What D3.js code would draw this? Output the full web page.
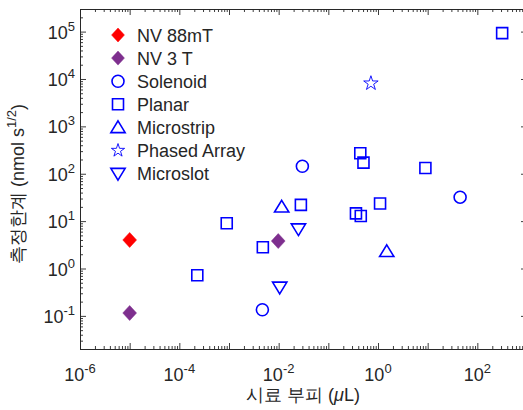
<!DOCTYPE html>
<html>
<head>
<meta charset="utf-8">
<script src="https://cdn.jsdelivr.net/npm/d3@7"></script>
<style>
  body { margin: 0; background: #fff; }
  svg { display: block; }
  text { font-family: "Liberation Sans", Arial, sans-serif; fill: #262626; }
</style>
</head>
<body>
<script>
// data (volume in uL, limit in nmol s^1/2)
var nv88Vol = [1e-5];
var nv88Lim = [4];
var nv3Vol = [1e-5, 0.0098];
var nv3Lim = [0.115, 3.8];
var solenoidVol = [0.0047, 0.03, 45];
var solenoidLim = [0.135, 144, 32];
var planarVol = [2.3e-4, 9e-4, 0.0048, 0.028, 0.36, 0.45, 1.1, 0.44, 0.51, 9, 316];
var planarLim = [0.72, 9, 2.8, 22, 14.6, 12.8, 23.5, 270, 172, 132, 93000];
var microstripVol = [0.0115, 1.5];
var microstripLim = [20, 2.3];
var phasedVol = [0.72];
var phasedLim = [8100];
var microslotVol = [0.025, 0.0105];
var microslotLim = [6.8, 0.4];

var legendNames = ["NV 88mT", "NV 3 T", "Solenoid", "Planar", "Microstrip", "Phased Array", "Microslot"];
var xTickExp = [-6, -4, -2, 0, 2];
var yTickExp = [-1, 0, 1, 2, 3, 4, 5];

(function(){
var W = 523, H = 410;
var pLeft = 80, pRight = 527, pTop = 9, pBottom = 349;
var blue = "#0000ff", red = "#ff0000", purple = "#7e2f8e";
var axisCol = "#262626";

var svg = d3.select("body").append("svg").attr("width", W).attr("height", H);

var x = d3.scaleLog().domain([1e-6, 1e3]).range([pLeft, pRight]);
var y = d3.scaleLog().domain([0.02, 3e5]).range([pBottom, pTop]);

// minor tick values
function minors(lo, hi) {
    var out = [];
    for (var e = lo; e <= hi; e++) {
        for (var k = 2; k <= 9; k++) out.push(k * Math.pow(10, e));
    }
    return out;
}
var xMajor = d3.range(-6, 4).map(function(e){ return Math.pow(10, e); });
var xMinor = minors(-6, 2);
var yMajor = d3.range(-1, 6).map(function(e){ return Math.pow(10, e); });
var yMinor = minors(-2, 5).filter(function(v){ return v >= 0.02 && v <= 3e5; });

var axes = svg.append("g").attr("class", "axes");

function styleAxis(g) {
    g.selectAll("path").attr("stroke", axisCol).attr("stroke-width", 0.9);
    g.selectAll("line").attr("stroke", axisCol).attr("stroke-width", 0.9);
    g.selectAll("text").remove();
}

axes.append("g").attr("transform", "translate(0," + pBottom + ")")
    .call(d3.axisBottom(x).tickValues(xMajor).tickSize(-6).tickSizeOuter(0).tickFormat(""))
    .call(styleAxis);
axes.append("g").attr("transform", "translate(0," + pBottom + ")")
    .call(d3.axisBottom(x).tickValues(xMinor).tickSize(-3).tickSizeOuter(0).tickFormat(""))
    .call(styleAxis);
axes.append("g").attr("transform", "translate(0," + pTop + ")")
    .call(d3.axisTop(x).tickValues(xMajor).tickSize(-6).tickSizeOuter(0).tickFormat(""))
    .call(styleAxis);
axes.append("g").attr("transform", "translate(0," + pTop + ")")
    .call(d3.axisTop(x).tickValues(xMinor).tickSize(-3).tickSizeOuter(0).tickFormat(""))
    .call(styleAxis);
axes.append("g").attr("transform", "translate(" + pLeft + ",0)")
    .call(d3.axisLeft(y).tickValues(yMajor).tickSize(-6).tickSizeOuter(0).tickFormat(""))
    .call(styleAxis);
axes.append("g").attr("transform", "translate(" + pLeft + ",0)")
    .call(d3.axisLeft(y).tickValues(yMinor).tickSize(-3).tickSizeOuter(0).tickFormat(""))
    .call(styleAxis);
axes.append("g").attr("transform", "translate(" + pRight + ",0)")
    .call(d3.axisRight(y).tickValues(yMajor).tickSize(-6).tickSizeOuter(0).tickFormat(""))
    .call(styleAxis);
axes.append("g").attr("transform", "translate(" + pRight + ",0)")
    .call(d3.axisRight(y).tickValues(yMinor).tickSize(-3).tickSizeOuter(0).tickFormat(""))
    .call(styleAxis);

// tick labels 10^n
xTickExp.forEach(function(e){
    var t = svg.append("text")
        .attr("x", x(Math.pow(10, e)))
        .attr("y", 381)
        .attr("text-anchor", "middle")
        .style("font-size", "18px");
    t.append("tspan").text("10");
    t.append("tspan").attr("dy", -8).style("font-size", "13px").text(e);
});
yTickExp.forEach(function(e){
    var t = svg.append("text")
        .attr("x", 75)
        .attr("y", y(Math.pow(10, e)) + 7)
        .attr("text-anchor", "end")
        .style("font-size", "18px");
    t.append("tspan").text("10");
    t.append("tspan").attr("dy", -8).style("font-size", "13px").text(e);
});

// axis titles
var xt = svg.append("text")
    .attr("x", 303)
    .attr("y", 401)
    .attr("text-anchor", "middle")
    .style("font-size", "18px");
xt.append("tspan").text("시료 부피 (");
xt.append("tspan").style("font-style", "italic").text("μ");
xt.append("tspan").text("L)");

var yt = svg.append("text")
    .attr("transform", "translate(24,184) rotate(-90)")
    .attr("text-anchor", "middle")
    .style("font-size", "18px");
yt.append("tspan").text("측정한계 (nmol s");
yt.append("tspan").attr("dy", -8).style("font-size", "13px").text("1/2");
yt.append("tspan").attr("dy", 8).text(")");

// markers
function diamond(s) {
    var w = s * 0.46, h = s * 0.5;
    return "M0," + (-h) + "L" + w + ",0L0," + h + "L" + (-w) + ",0Z";
}
function square(s) { var h = s / 2; return "M" + (-h) + "," + (-h) + "h" + s + "v" + s + "h" + (-s) + "Z"; }
function circle(s) { var r = s / 2; return "M" + r + ",0A" + r + "," + r + " 0 1,1 " + (-r) + ",0A" + r + "," + r + " 0 1,1 " + r + ",0Z"; }
function triUp(s) { var h = s / 2; return "M0," + (-h) + "L" + (h * 1.1) + "," + (h * 0.8) + "L" + (-h * 1.1) + "," + (h * 0.8) + "Z"; }
function triDown(s) { var h = s / 2; return "M0," + h + "L" + (h * 1.1) + "," + (-h * 0.8) + "L" + (-h * 1.1) + "," + (-h * 0.8) + "Z"; }
function star(s) { return d3.symbol().type(d3.symbolStar).size(s * s * 0.45)(); }

var series = [
    { vol: nv88Vol, lim: nv88Lim, shape: diamond, size: 15, fill: red, stroke: red, sw: 0.5 },
    { vol: nv3Vol, lim: nv3Lim, shape: diamond, size: 15, fill: purple, stroke: purple, sw: 0.5 },
    { vol: solenoidVol, lim: solenoidLim, shape: circle, size: 12, fill: "none", stroke: blue, sw: 1.6 },
    { vol: planarVol, lim: planarLim, shape: square, size: 11, fill: "none", stroke: blue, sw: 1.6 },
    { vol: microstripVol, lim: microstripLim, shape: triUp, size: 13, fill: "none", stroke: blue, sw: 1.6 },
    { vol: phasedVol, lim: phasedLim, shape: star, size: 12, fill: "none", stroke: blue, sw: 0.9 },
    { vol: microslotVol, lim: microslotLim, shape: triDown, size: 13, fill: "none", stroke: blue, sw: 1.6 }
];

series.forEach(function(s){
    svg.append("g").selectAll("path")
        .data(s.vol)
        .enter()
        .append("path")
        .attr("transform", function(d, i){
            return "translate(" + x(d) + "," + y(s.lim[i]) + ")";
        })
        .attr("d", s.shape(s.size))
        .attr("fill", s.fill)
        .attr("stroke", s.stroke)
        .attr("stroke-width", s.sw);
});

// legend
var leg = svg.append("g").attr("class", "legend");
legendNames.forEach(function(name, i){
    var s = series[i];
    var ly = 35 + i * 23.1;
    leg.append("path")
        .attr("transform", "translate(118," + ly + ")")
        .attr("d", s.shape(i == 5 ? 11 : (i < 2 ? 14 : s.size)))
        .attr("fill", s.fill)
        .attr("stroke", s.stroke)
        .attr("stroke-width", s.sw);
    leg.append("text")
        .attr("x", 137)
        .attr("y", ly + 6.5)
        .style("font-size", "18px")
        .text(name);
});
})();
</script>
</body>
</html>
